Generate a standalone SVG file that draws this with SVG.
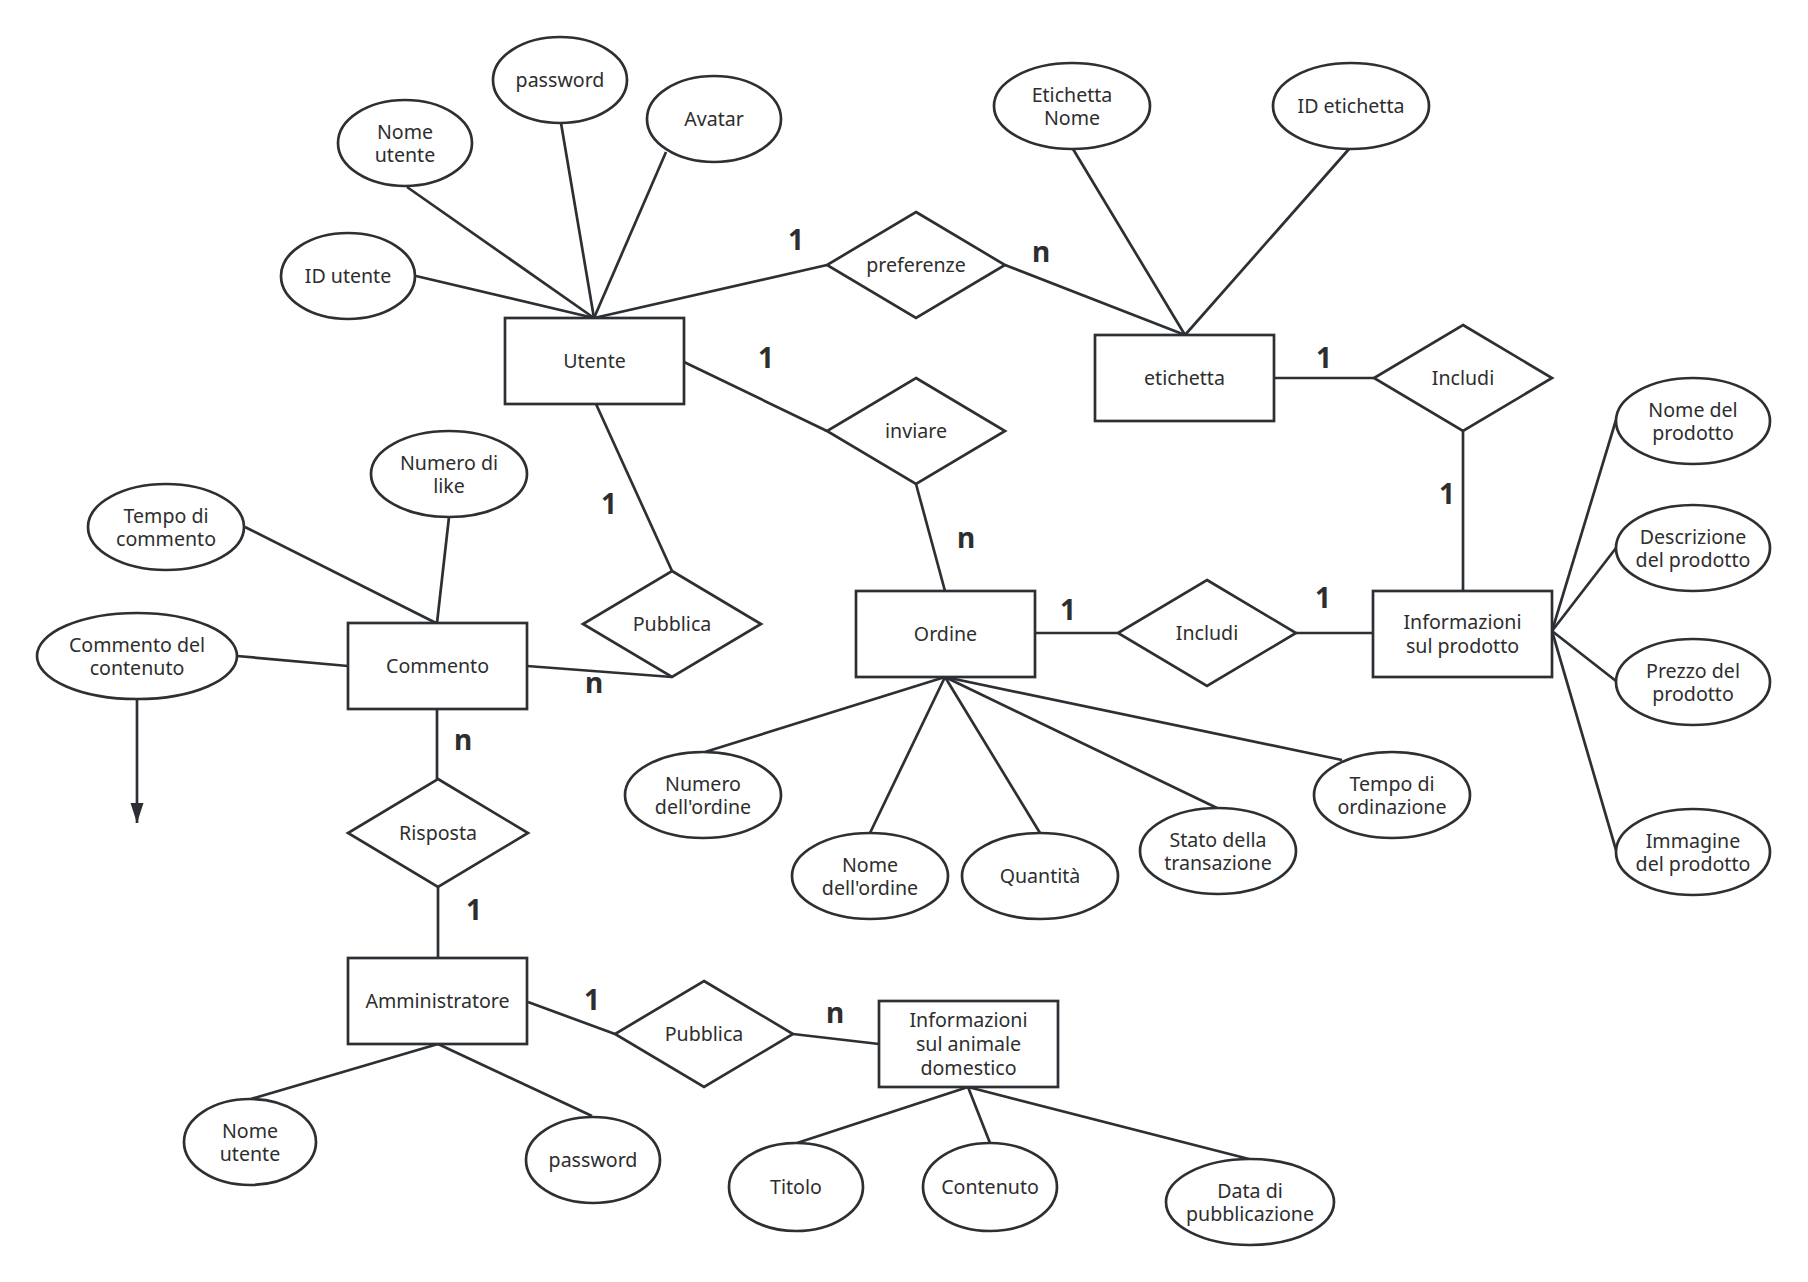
<svg xmlns="http://www.w3.org/2000/svg" width="1808" height="1282" viewBox="0 0 1808 1282">
<style>
.shape{fill:#fff;stroke:#2c2f33;stroke-width:2.7}
.ln{stroke:#2c2f33;stroke-width:2.7;fill:none}
.t{font-family:"Noto Sans","Open Sans",sans-serif;font-size:19.6px;fill:#2e2e2e;text-anchor:middle}
.c{font-family:"Noto Sans","Open Sans",sans-serif;font-size:28px;font-weight:bold;fill:#2e2e2e;text-anchor:middle}
</style>
<defs>
<marker id="arr" viewBox="0 0 20 20" refX="20" refY="10" markerWidth="20" markerHeight="20" markerUnits="userSpaceOnUse" orient="auto"><path d="M0,3.5 L20,10 L0,16.5 z" fill="#2c2f33"/></marker>
</defs>
<rect width="1808" height="1282" fill="#fff"/>
<g id="connectors">
<line class="ln" x1="416" y1="276" x2="594" y2="318"/>
<line class="ln" x1="407" y1="187" x2="594" y2="318"/>
<line class="ln" x1="561" y1="123" x2="594" y2="318"/>
<line class="ln" x1="666" y1="152" x2="594" y2="318"/>
<line class="ln" x1="594" y1="318" x2="827" y2="265"/>
<line class="ln" x1="1005" y1="265" x2="1185" y2="335"/>
<line class="ln" x1="1073" y1="149" x2="1185" y2="335"/>
<line class="ln" x1="1349" y1="149" x2="1185" y2="335"/>
<line class="ln" x1="1274" y1="378" x2="1374" y2="378"/>
<line class="ln" x1="1463" y1="431" x2="1463" y2="591"/>
<line class="ln" x1="684" y1="362" x2="827" y2="431"/>
<line class="ln" x1="916" y1="484" x2="945" y2="591"/>
<line class="ln" x1="596" y1="404" x2="672" y2="571"/>
<line class="ln" x1="527" y1="666" x2="672" y2="677"/>
<line class="ln" x1="1035" y1="633" x2="1118" y2="633"/>
<line class="ln" x1="1296" y1="633" x2="1373" y2="633"/>
<line class="ln" x1="1552" y1="631" x2="1616" y2="420"/>
<line class="ln" x1="1552" y1="631" x2="1616" y2="548"/>
<line class="ln" x1="1552" y1="631" x2="1616" y2="681"/>
<line class="ln" x1="1552" y1="631" x2="1616" y2="850"/>
<line class="ln" x1="945" y1="677" x2="705" y2="752"/>
<line class="ln" x1="945" y1="677" x2="870" y2="833"/>
<line class="ln" x1="945" y1="677" x2="1040" y2="833"/>
<line class="ln" x1="945" y1="677" x2="1217" y2="808"/>
<line class="ln" x1="945" y1="677" x2="1342" y2="760"/>
<line class="ln" x1="245" y1="527" x2="436" y2="623"/>
<line class="ln" x1="449" y1="517" x2="437" y2="623"/>
<line class="ln" x1="237" y1="656" x2="348" y2="666"/>
<line class="ln" x1="137" y1="699" x2="137" y2="823" marker-end="url(#arr)"/>
<line class="ln" x1="437" y1="709" x2="437" y2="779"/>
<line class="ln" x1="438" y1="887" x2="438" y2="958"/>
<line class="ln" x1="528" y1="1002" x2="615" y2="1034"/>
<line class="ln" x1="793" y1="1034" x2="879" y2="1044"/>
<line class="ln" x1="438" y1="1044" x2="251" y2="1099"/>
<line class="ln" x1="438" y1="1044" x2="592" y2="1116"/>
<line class="ln" x1="968" y1="1087" x2="797" y2="1143"/>
<line class="ln" x1="968" y1="1087" x2="990" y2="1143"/>
<line class="ln" x1="968" y1="1087" x2="1249" y2="1159"/>
<text class="c" x="796" y="250">1</text>
<text class="c" x="766" y="368">1</text>
<text class="c" x="1041" y="262">n</text>
<text class="c" x="1324" y="368">1</text>
<text class="c" x="1447" y="504">1</text>
<text class="c" x="609" y="514">1</text>
<text class="c" x="966" y="548">n</text>
<text class="c" x="1068" y="620">1</text>
<text class="c" x="1323" y="608">1</text>
<text class="c" x="594" y="693">n</text>
<text class="c" x="463" y="750">n</text>
<text class="c" x="474" y="920">1</text>
<text class="c" x="592" y="1010">1</text>
<text class="c" x="835" y="1023">n</text>
</g>
<g id="e-utente"><rect class="shape" x="505" y="318" width="179" height="86"/><text class="t" x="594.5" y="367.5">Utente</text></g>
<g id="e-etichetta"><rect class="shape" x="1095" y="335" width="179" height="86"/><text class="t" x="1184.5" y="384.5">etichetta</text></g>
<g id="e-commento"><rect class="shape" x="348" y="623" width="179" height="86"/><text class="t" x="437.5" y="672.5">Commento</text></g>
<g id="e-ordine"><rect class="shape" x="856" y="591" width="179" height="86"/><text class="t" x="945.5" y="640.5">Ordine</text></g>
<g id="e-prodotto"><rect class="shape" x="1373" y="591" width="179" height="86"/><text class="t" x="1462.5" y="629">Informazioni<tspan x="1462.5" dy="23.5">sul prodotto</tspan></text></g>
<g id="e-amministratore"><rect class="shape" x="348" y="958" width="179" height="86"/><text class="t" x="437.5" y="1007.5">Amministratore</text></g>
<g id="e-animale"><rect class="shape" x="879" y="1001" width="179" height="86"/><text class="t" x="968.5" y="1026.5">Informazioni<tspan x="968.5" dy="24">sul animale</tspan><tspan x="968.5" dy="24">domestico</tspan></text></g>
<g id="r-preferenze"><polygon class="shape" points="916,212 1005,265 916,318 827,265"/><text class="t" x="916" y="271.5">preferenze</text></g>
<g id="r-inviare"><polygon class="shape" points="916,378 1005,431 916,484 827,431"/><text class="t" x="916" y="437.5">inviare</text></g>
<g id="r-includi1"><polygon class="shape" points="1463,325 1552,378 1463,431 1374,378"/><text class="t" x="1463" y="384.5">Includi</text></g>
<g id="r-pubblica1"><polygon class="shape" points="672,571 761,624 672,677 583,624"/><text class="t" x="672" y="630.5">Pubblica</text></g>
<g id="r-includi2"><polygon class="shape" points="1207,580 1296,633 1207,686 1118,633"/><text class="t" x="1207" y="639.5">Includi</text></g>
<g id="r-risposta"><polygon class="shape" points="438,779 528,833 438,887 348,833"/><text class="t" x="438" y="839.5">Risposta</text></g>
<g id="r-pubblica2"><polygon class="shape" points="704,981 793,1034 704,1087 615,1034"/><text class="t" x="704" y="1040.5">Pubblica</text></g>
<g id="a-password1"><ellipse class="shape" cx="560" cy="80" rx="67" ry="43"/><text class="t" x="560" y="86.5">password</text></g>
<g id="a-nomeutente1"><ellipse class="shape" cx="405" cy="143" rx="67" ry="43"/><text class="t" x="405" y="138.5">Nome<tspan x="405" dy="23.5">utente</tspan></text></g>
<g id="a-avatar"><ellipse class="shape" cx="714" cy="119" rx="67" ry="43"/><text class="t" x="714" y="125.5">Avatar</text></g>
<g id="a-idutente"><ellipse class="shape" cx="348" cy="276" rx="67" ry="43"/><text class="t" x="348" y="282.5">ID utente</text></g>
<g id="a-etichettanome"><ellipse class="shape" cx="1072" cy="106" rx="78" ry="43"/><text class="t" x="1072" y="101.5">Etichetta<tspan x="1072" dy="23.5">Nome</tspan></text></g>
<g id="a-idetichetta"><ellipse class="shape" cx="1351" cy="106" rx="78" ry="43"/><text class="t" x="1351" y="112.5">ID etichetta</text></g>
<g id="a-nomeprodotto"><ellipse class="shape" cx="1693" cy="421" rx="77" ry="43"/><text class="t" x="1693" y="416.5">Nome del<tspan x="1693" dy="23.5">prodotto</tspan></text></g>
<g id="a-descrizione"><ellipse class="shape" cx="1693" cy="548" rx="77" ry="43"/><text class="t" x="1693" y="543.5">Descrizione<tspan x="1693" dy="23.5">del prodotto</tspan></text></g>
<g id="a-prezzo"><ellipse class="shape" cx="1693" cy="682" rx="77" ry="43"/><text class="t" x="1693" y="677.5">Prezzo del<tspan x="1693" dy="23.5">prodotto</tspan></text></g>
<g id="a-immagine"><ellipse class="shape" cx="1693" cy="852" rx="77" ry="43"/><text class="t" x="1693" y="847.5">Immagine<tspan x="1693" dy="23.5">del prodotto</tspan></text></g>
<g id="a-numerolike"><ellipse class="shape" cx="449" cy="474" rx="78" ry="43"/><text class="t" x="449" y="469.5">Numero di<tspan x="449" dy="23.5">like</tspan></text></g>
<g id="a-tempocommento"><ellipse class="shape" cx="166" cy="527" rx="78" ry="43"/><text class="t" x="166" y="522.5">Tempo di<tspan x="166" dy="23.5">commento</tspan></text></g>
<g id="a-commentocontenuto"><ellipse class="shape" cx="137" cy="656" rx="100" ry="43"/><text class="t" x="137" y="651.5">Commento del<tspan x="137" dy="23.5">contenuto</tspan></text></g>
<g id="a-numeroordine"><ellipse class="shape" cx="703" cy="795" rx="78" ry="43"/><text class="t" x="703" y="790.5">Numero<tspan x="703" dy="23.5">dell'ordine</tspan></text></g>
<g id="a-nomeordine"><ellipse class="shape" cx="870" cy="876" rx="78" ry="43"/><text class="t" x="870" y="871.5">Nome<tspan x="870" dy="23.5">dell'ordine</tspan></text></g>
<g id="a-quantita"><ellipse class="shape" cx="1040" cy="876" rx="78" ry="43"/><text class="t" x="1040" y="882.5">Quantità</text></g>
<g id="a-stato"><ellipse class="shape" cx="1218" cy="851" rx="78" ry="43"/><text class="t" x="1218" y="846.5">Stato della<tspan x="1218" dy="23.5">transazione</tspan></text></g>
<g id="a-tempoordinazione"><ellipse class="shape" cx="1392" cy="795" rx="78" ry="43"/><text class="t" x="1392" y="790.5">Tempo di<tspan x="1392" dy="23.5">ordinazione</tspan></text></g>
<g id="a-nomeutente2"><ellipse class="shape" cx="250" cy="1142" rx="66" ry="43"/><text class="t" x="250" y="1137.5">Nome<tspan x="250" dy="23.5">utente</tspan></text></g>
<g id="a-password2"><ellipse class="shape" cx="593" cy="1160" rx="67" ry="43"/><text class="t" x="593" y="1166.5">password</text></g>
<g id="a-titolo"><ellipse class="shape" cx="796" cy="1187" rx="67" ry="44"/><text class="t" x="796" y="1193.5">Titolo</text></g>
<g id="a-contenuto"><ellipse class="shape" cx="990" cy="1187" rx="67" ry="44"/><text class="t" x="990" y="1193.5">Contenuto</text></g>
<g id="a-data"><ellipse class="shape" cx="1250" cy="1202" rx="84" ry="43"/><text class="t" x="1250" y="1197.5">Data di<tspan x="1250" dy="23.5">pubblicazione</tspan></text></g>
</svg>
